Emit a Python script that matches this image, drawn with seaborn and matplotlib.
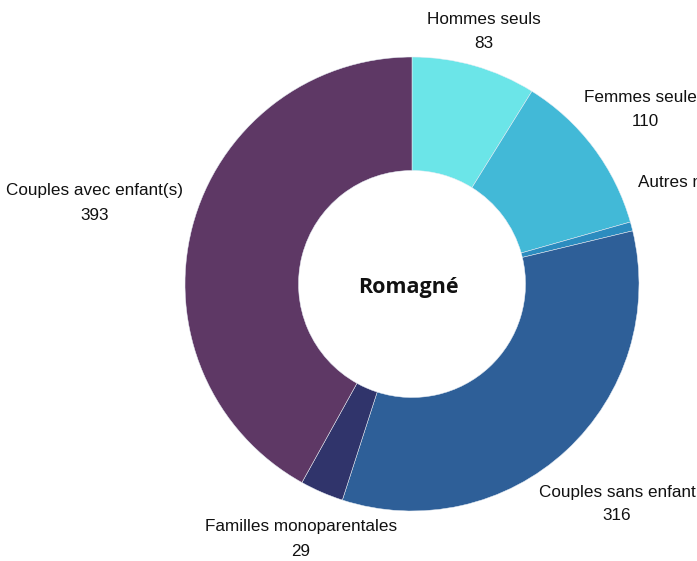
import matplotlib
matplotlib.use("Agg")
import matplotlib.pyplot as plt
import seaborn as sns

categories = ["Hommes seuls", "Femmes seules", "Autres ménages sans famille",
              "Couples sans enfant", "Familles monoparentales", "Couples avec enfant(s)"]
values = [83, 110, 6, 316, 29, 393]
colors = ["#6be5e8", "#42b9d7", "#2c8cbf", "#2e5f98", "#30346b", "#5e3865"]
title = "Romagné"

# label anchor positions in pixels (x from left, y from top)
label_pos = [(484, 20), (645, 98), (638, 183), (617, 492), (301, 527), (95, 191)]
label_ha = ["center", "center", "left", "center", "center", "center"]

sns.set_theme(style="white")
plt.rcParams["font.family"] = ["Liberation Sans", "DejaVu Sans"]

W, H = 697, 561
fig = plt.figure(figsize=(W / 100, H / 100), dpi=100)
ax = fig.add_axes([0, 0, 1, 1])
R = 227.0
cx, cy = 412.0, 284.0

ax.pie(values, colors=colors, startangle=90, counterclock=False, radius=1.0,
       wedgeprops=dict(width=0.5, edgecolor="#e8eef5", linewidth=0.35))

ax.set_xlim(-cx / R, (W - cx) / R)
ax.set_ylim(-(H - cy) / R, cy / R)
ax.set_aspect("equal", adjustable="datalim")
ax.axis("off")

for cat, val, (px, py), ha in zip(categories, values, label_pos, label_ha):
    x = (px - cx) / R
    y = (cy - py) / R
    ax.text(x, y, cat, ha=ha, va="center", fontsize=12.3, color="#111111", clip_on=False)
    if ha == "center":
        ax.text(x, y - 24 / R, str(val), ha="center", va="center", fontsize=12.3, color="#111111")

ax.text(-4 / R, -3 / R, title, ha="center", va="center", fontsize=15.5, fontweight="bold",
        family=["Open Sans", "DejaVu Sans"], color="#111111")

fig.savefig("out.png", dpi=100)
